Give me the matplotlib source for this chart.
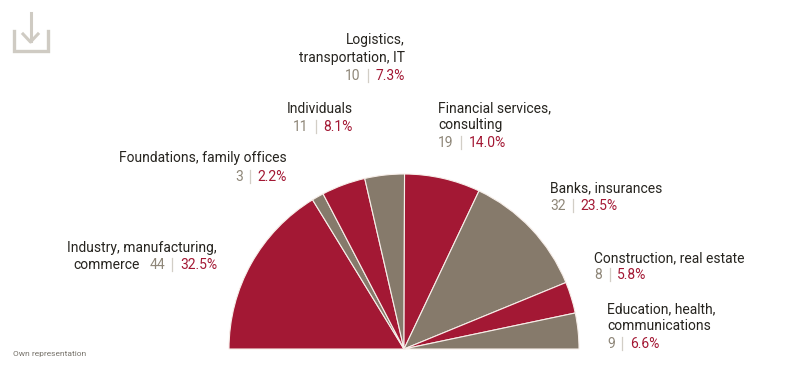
import matplotlib
matplotlib.use("Agg")
import matplotlib.pyplot as plt

categories = ["Industry, manufacturing,\ncommerce", "Foundations, family offices", "Individuals",
              "Logistics,\ntransportation, IT", "Financial services,\nconsulting", "Banks, insurances",
              "Construction, real estate", "Education, health,\ncommunications"]
counts = [44, 3, 11, 10, 19, 32, 8, 9]
shares = [32.5, 2.2, 8.1, 7.3, 14.0, 23.5, 5.8, 6.6]
source_note = "Own representation"

RED, TAUPE = "#A31834", "#867A6B"
W, H = 808, 369
FONT = "Roboto"
SIZE = 10.0

fig = plt.figure(figsize=(W / 100, H / 100), dpi=100)
ax = fig.add_axes([0, 0, 1, 1])
colors = [RED, TAUPE] * 4
wedges, _ = ax.pie(shares + [sum(shares)], colors=colors + ["none"], startangle=180, counterclock=False,
                   center=(404, H - 349), radius=175, frame=True,
                   wedgeprops=dict(edgecolor="#F7EEE9", linewidth=0.8))
wedges[-1].set_visible(False)
ax.set_xlim(0, W)
ax.set_ylim(0, H)
ax.axis("off")

renderer = fig.canvas.get_renderer()

def put(x, y, s, color="#26241F", ha="left", size=SIZE):
    return ax.text(x, H - y, s, color=color, ha=ha, va="baseline", family=FONT, fontsize=size)

def width(s):
    t = put(0, 0, s)
    w = t.get_window_extent(renderer).width
    t.remove()
    return w

def stat(i, y, left=None, right=None, lead=None):
    c, p = str(counts[i]), f"{shares[i]:.1f}%"
    wc, wp = width(c), width(p)
    gap = 7.5
    total = wc + wp + 2 * gap
    x = left if left is not None else right - total
    put(x, y, c, "#8E8678")
    ax.plot([x + wc + gap] * 2, [H - y - 2, H - y + 11], color="#D2CEC6", lw=0.9)
    put(x + wc + 2 * gap, y, p, RED)
    if lead:
        put(x - 9, y, lead, ha="right")

# label anchors: (side, x, baselines)
layout = [("r", 217, [252, 269]), ("r", 287, [162, 181]), ("r", 353, [113, 131]),
          ("r", 405, [44, 62, 80]), ("l", 438, [112, 129, 147]), ("l", 550, [192, 210]),
          ("l", 594.5, [262, 279]), ("l", 607, [313, 330, 348])]

for i, (side, x, ys) in enumerate(layout):
    lines = categories[i].split("\n")
    if i == 0:
        put(x, ys[0], lines[0], ha="right")
        stat(i, ys[1], right=x, lead=lines[1])
        continue
    for ln, y in zip(lines, ys):
        put(x, y, ln, ha="right" if side == "r" else "left")
    if side == "r":
        stat(i, ys[-1], right=x)
    else:
        stat(i, ys[-1], left=x)

put(13, 356, source_note, color="#77736B", size=6.0)

# download icon
ICON = "#CFCBC3"
ax.plot([14, 14, 47.5, 47.5], [H - 31, H - 51, H - 51, H - 31], color=ICON, lw=2.4, solid_joinstyle="miter")
ax.plot([30.5, 30.5], [H - 13, H - 41], color=ICON, lw=2.2)
ax.plot([23, 30.5, 38], [H - 34, H - 42, H - 34], color=ICON, lw=2.2)

fig.savefig("out.png", dpi=100, facecolor="white")
